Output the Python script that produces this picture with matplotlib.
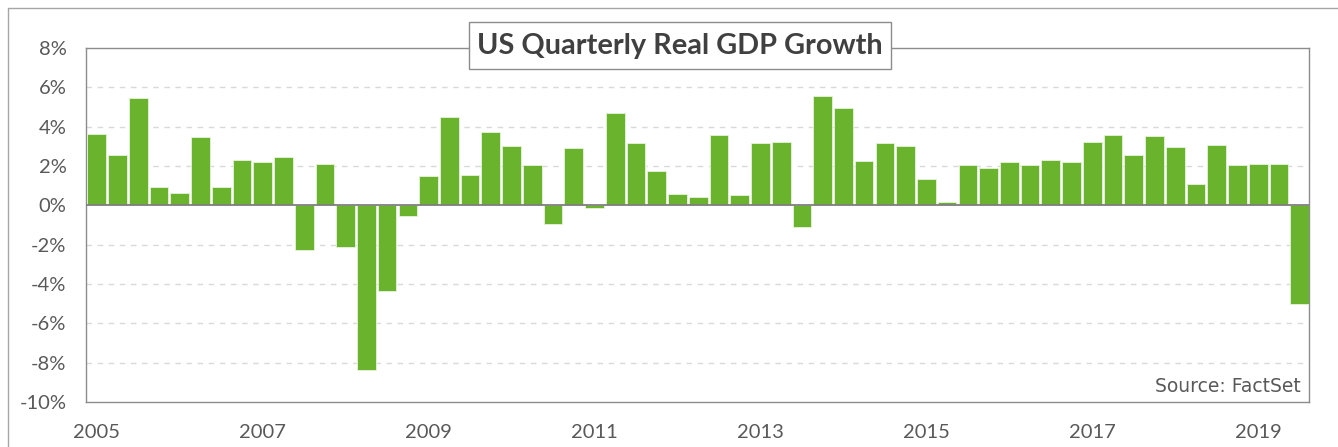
import matplotlib.pyplot as plt
from matplotlib.patches import Rectangle
from matplotlib.lines import Line2D
from matplotlib.ticker import FuncFormatter

# quarterly real GDP growth (annualised, %), 2005 Q3 .. 2020 Q1
growth = [3.65, 2.55, 5.47, 0.92, 0.65, 3.45, 0.92, 2.33, 2.19, 2.46,
          -2.28, 2.12, -2.12, -8.35, -4.38, -0.54, 1.48, 4.48, 1.56, 3.72,
          3.04, 2.05, -0.95, 2.89, -0.12, 4.69, 3.16, 1.77, 0.58, 0.44,
          3.58, 0.51, 3.16, 3.24, -1.09, 5.54, 4.97, 2.26, 3.16, 3.02,
          1.34, 0.15, 2.05, 1.90, 2.19, 2.05, 2.33, 2.19, 3.24, 3.58,
          2.55, 3.51, 2.95, 1.07, 3.09, 2.05, 2.12, 2.12, -5.01]
year_labels = ['2005', '2007', '2009', '2011', '2013', '2015', '2017', '2019']
label_every = 8

W, H = 1338, 447
fig = plt.figure(figsize=(W / 100, H / 100), dpi=100)
ax = fig.add_axes([86 / W, 1 - 402 / H, (1309 - 86) / W, (402 - 48) / H])

x = list(range(len(growth)))
ax.bar(x, growth, width=0.9, color='#6ab42d', edgecolor='#e8f3de',
       linewidth=0.6, zorder=3)

ax.set_xlim(-0.52, len(growth) - 0.55)
ax.set_ylim(-10, 8)
ax.set_yticks(range(-10, 9, 2))
ax.yaxis.set_major_formatter(FuncFormatter(lambda v, p: f'{v:.0f}%'))
ax.set_xticks(x[::label_every])
ax.set_xticklabels(year_labels)

for v in range(-8, 8, 2):
    if v != 0:
        ax.axhline(v, color='#d9d9d9', lw=1.0, ls=(0, (4, 4)), zorder=1)
ax.axhline(0, color='#7f7f7f', lw=1.3, zorder=4)

for s in ax.spines.values():
    s.set_color('#8c8c8c')
    s.set_linewidth(1.0)
ax.tick_params(length=0, colors='#595959', labelsize=14.5)
ax.tick_params(axis='y', pad=14)
ax.tick_params(axis='x', pad=16)
for t in ax.get_xticklabels() + ax.get_yticklabels():
    t.set_fontfamily('Lato')

ax.text(0.993, 0.045, 'Source: FactSet', transform=ax.transAxes,
        ha='right', va='center', fontsize=13.5, color='#595959',
        family='DejaVu Sans', zorder=5)

# outer frame (top and left edges visible)
fig.add_artist(Line2D([8 / W, 8 / W, 1], [0, 1 - 8 / H, 1 - 8 / H],
                      color='#a6a6a6', lw=1.0))

# title box
fig.add_artist(Rectangle((469 / W, 1 - 69 / H), (891 - 469) / W, 47 / H,
                         facecolor='white', edgecolor='#8c8c8c', lw=1.0,
                         zorder=10))
fig.text(680 / W, 1 - 46 / H, 'US Quarterly Real GDP Growth', ha='center',
         va='center', fontsize=20.8, fontweight='bold', color='#404040',
         family='Lato', zorder=11)

fig.savefig('out.png', dpi=100)
